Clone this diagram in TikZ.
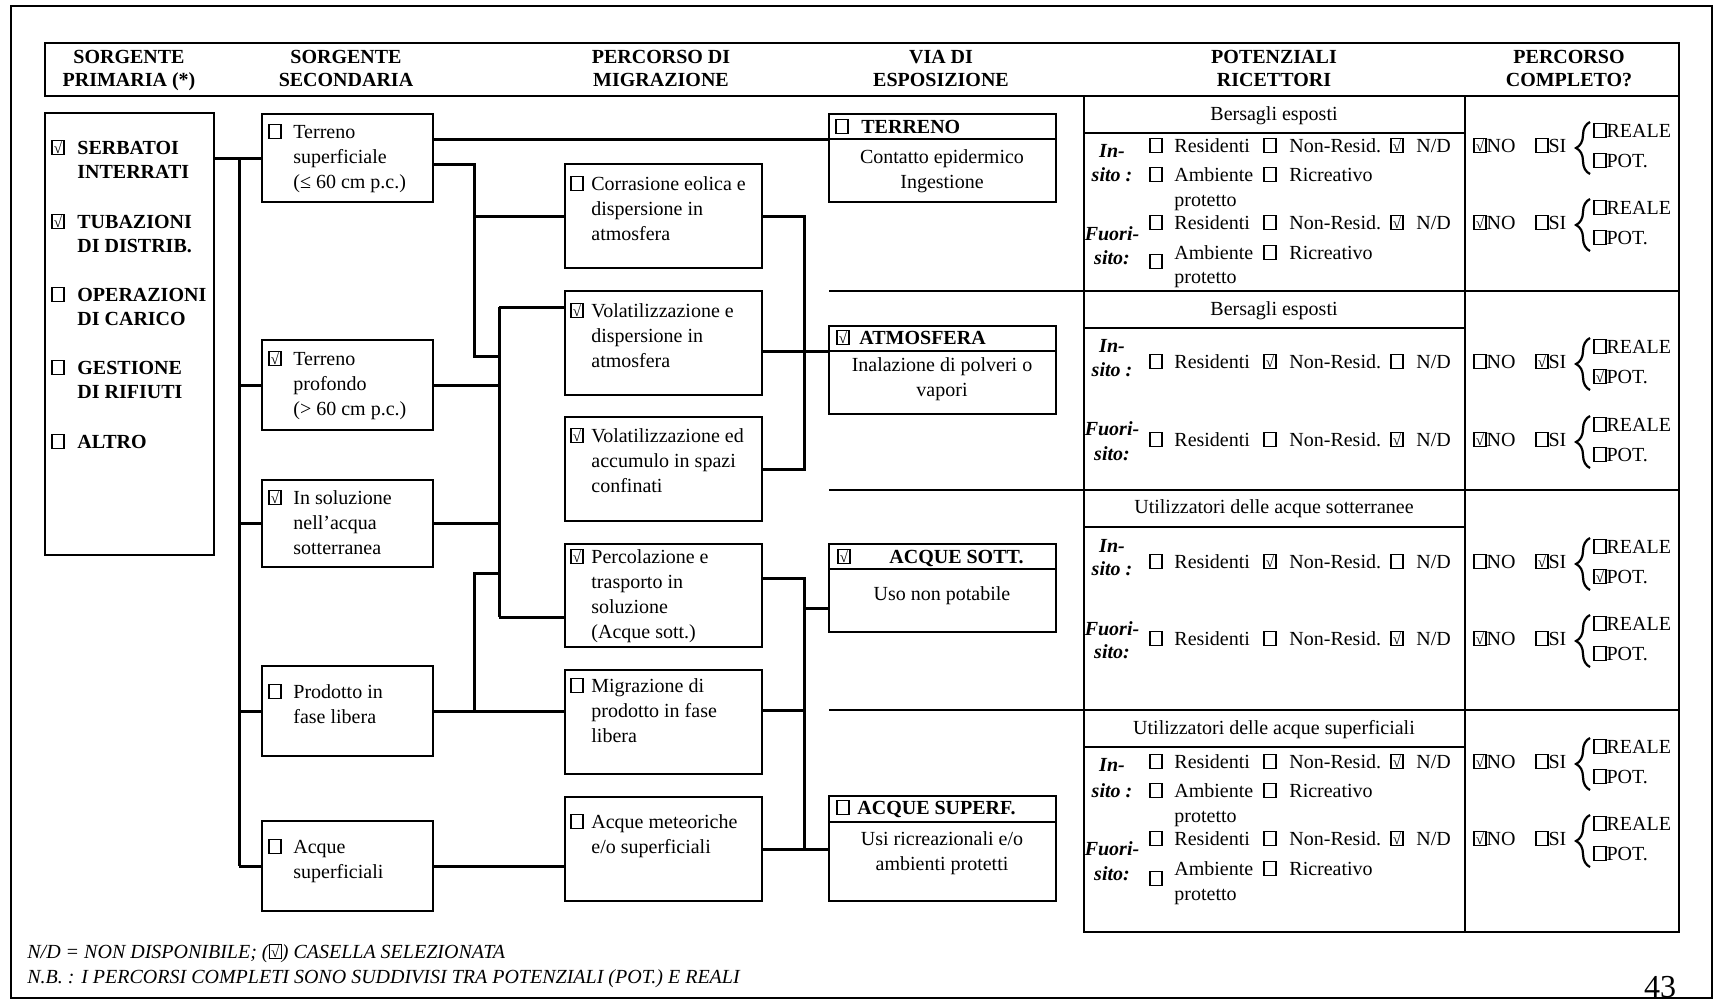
\documentclass[tikz,border=0pt]{standalone}
\usepackage{fontspec}
\setmainfont{Liberation Serif}
\usetikzlibrary{fit,decorations.pathreplacing}

\newcommand\cbx[1]{{\setlength\fboxsep{0pt}\setlength\fboxrule{0.6pt}\fbox{\makebox[5.4pt]{\rule{0pt}{6.6pt}#1}}}}
\newcommand\cb{\cbx{}}
\newcommand\ck{\cbx{\smash{\raisebox{0.3pt}{\fontsize{7.5}{7.5}\selectfont √}}}}
\newcommand\ml[1]{\begin{tabular}[t]{@{}l@{}}#1\end{tabular}}
\newcommand\mc[1]{\begin{tabular}[t]{@{}c@{}}#1\end{tabular}}
\newcommand\hfont{\fontsize{10}{11.5}\selectfont\bfseries}
\newcommand\pfont{\fontsize{10}{12}\selectfont\bfseries}
\newcommand\lfont{\fontsize{10}{12}\selectfont\bfseries\itshape}

\newcommand\resrow[5]{%
  \node[t] (#1a) at (1149,#2) {#3};
  \node[t] (#1at) at (1174,#2) {Residenti};
  \node[t] (#1b) at (1263,#2) {#4};
  \node[t] (#1bt) at (1289,#2) {Non-Resid.};
  \node[t] (#1c) at (1390,#2) {#5};
  \node[t] (#1ct) at (1416,#2) {N/D};}
\newcommand\ambrow[4]{%
  \node[t] (#1a) at (1149,#3) {\cb};
  \node[t] (#1at) at (1174,#2) {Ambiente};
  \node[t] (#1b) at (1263,#2) {\cb};
  \node[t] (#1bt) at (1289,#2) {Ricreativo};
  \node[t] (#1p) at (1174,#4) {protetto};}
\newcommand\pcrow[6]{%
  \node[t] (#1n) at (1473,#2) {#3NO};
  \node[t] (#1s) at (1535,#2) {#4SI};
  \draw[brc] (1590,#2+22) -- (1590,#2-30);
  \node[t] (#1r) at (1593,#2-15) {#5REALE};
  \node[t] (#1p) at (1593,#2+15) {#6POT.};}
\newcommand\sitelab[5]{%
  \node[tc,font=\lfont] (#1) at (1112,#2) {#3};
  \node[tc,font=\lfont] (#1s) at (1112,#4) {#5};}

\begin{document}
\begin{tikzpicture}[x=0.5pt,y=-0.5pt,
  every node/.append style={font=\fontsize{10}{12.5}\selectfont},
  t/.style={inner sep=0pt, anchor=base west},
  tc/.style={inner sep=0pt, anchor=base},
  bx/.style={draw, line width=0.8pt, inner sep=0pt},
  conn/.style={line width=1.5pt, line join=miter},
  tl/.style={line width=0.6pt},
  brc/.style={decorate, decoration={brace, amplitude=7pt}, line width=1.1pt}]

\useasboundingbox (0,0) rectangle (1719,1001);
\fill[white] (0,0) rectangle (1719,1001);

% frame and header
\node[bx, line width=0.7pt, fit={(11,6) (1712,998)}] (frame) {};
\node[bx, fit={(45,43) (1679,96)}] (hdr) {};
\node[tc, font=\hfont] (h1) at (129,63) {\mc{SORGENTE\\PRIMARIA (*)}};
\node[tc, font=\hfont] (h2) at (346,63) {\mc{SORGENTE\\SECONDARIA}};
\node[tc, font=\hfont] (h3) at (661,63) {\mc{PERCORSO DI\\MIGRAZIONE}};
\node[tc, font=\hfont] (h4) at (941,63) {\mc{VIA DI\\ESPOSIZIONE}};
\node[tc, font=\hfont] (h5) at (1274,63) {\mc{POTENZIALI\\RICETTORI}};
\node[tc, font=\hfont] (h6) at (1569,63) {\mc{PERCORSO\\COMPLETO?}};

% primary source
\node[bx, fit={(45,113) (214,555)}] (prim) {};
\node[t] (p1b) at (51,154) {\ck}; \node[t, font=\pfont] (p1) at (77,154) {\ml{SERBATOI\\INTERRATI}};
\node[t] (p2b) at (51,228) {\ck}; \node[t, font=\pfont] (p2) at (77,228) {\ml{TUBAZIONI\\DI DISTRIB.}};
\node[t] (p3b) at (51,301) {\cb}; \node[t, font=\pfont] (p3) at (77,301) {\ml{OPERAZIONI\\DI CARICO}};
\node[t] (p4b) at (51,374) {\cb}; \node[t, font=\pfont] (p4) at (77,374) {\ml{GESTIONE\\DI RIFIUTI}};
\node[t] (p5b) at (51,448) {\cb}; \node[t, font=\pfont] (p5) at (77,448) {ALTRO};

% secondary sources
\node[bx, fit={(262,114) (433,202)}] (s1) {};
\node[bx, fit={(262,340) (433,430)}] (s2) {};
\node[bx, fit={(262,480) (433,567)}] (s3) {};
\node[bx, fit={(262,666) (433,756)}] (s4) {};
\node[bx, fit={(262,821) (433,911)}] (s5) {};
\node[t] (s1b) at (268,138) {\cb}; \node[t] (s1t) at (293,138) {\ml{Terreno\\superficiale\\(≤ 60 cm p.c.)}};
\node[t] (s2b) at (268,365) {\ck}; \node[t] (s2t) at (293,365) {\ml{Terreno\\profondo\\(> 60 cm p.c.)}};
\node[t] (s3b) at (268,504) {\ck}; \node[t] (s3t) at (293,504) {\ml{In soluzione\\nell'acqua\\sotterranea}};
\node[t] (s4b) at (268,698) {\cb}; \node[t] (s4t) at (293,698) {\ml{Prodotto in\\fase libera}};
\node[t] (s5b) at (268,853) {\cb}; \node[t] (s5t) at (293,853) {\ml{Acque\\superficiali}};

% migration paths
\node[bx, fit={(565,164) (762,268)}] (m1) {};
\node[bx, fit={(565,291) (762,395)}] (m2) {};
\node[bx, fit={(565,417) (762,521)}] (m3) {};
\node[bx, fit={(565,544) (762,647)}] (m4) {};
\node[bx, fit={(565,670) (762,774)}] (m5) {};
\node[bx, fit={(565,797) (762,901)}] (m6) {};
\node[t] (m1b) at (570,190) {\cb}; \node[t] (m1t) at (591,190) {\ml{Corrasione eolica e\\dispersione in\\atmosfera}};
\node[t] (m2b) at (570,317) {\ck}; \node[t] (m2t) at (591,317) {\ml{Volatilizzazione e\\dispersione in\\atmosfera}};
\node[t] (m3b) at (570,442) {\ck}; \node[t] (m3t) at (591,442) {\ml{Volatilizzazione ed\\accumulo in spazi\\confinati}};
\node[t] (m4b) at (570,563) {\ck}; \node[t] (m4t) at (591,563) {\ml{Percolazione e\\trasporto in\\soluzione\\(Acque sott.)}};
\node[t] (m5b) at (570,692) {\cb}; \node[t] (m5t) at (591,692) {\ml{Migrazione di\\prodotto in fase\\libera}};
\node[t] (m6b) at (570,828) {\cb}; \node[t] (m6t) at (591,828) {\ml{Acque meteoriche\\e/o superficiali}};

% exposure routes
\node[bx, fit={(829,114) (1056,139)}] (v1h) {};
\node[bx, fit={(829,139) (1056,202)}] (v1b) {};
\node[bx, fit={(829,326) (1056,351)}] (v2h) {};
\node[bx, fit={(829,351) (1056,414)}] (v2b) {};
\node[bx, fit={(829,544) (1056,569)}] (v3h) {};
\node[bx, fit={(829,569) (1056,632)}] (v3b) {};
\node[bx, fit={(829,796) (1056,822)}] (v4h) {};
\node[bx, fit={(829,822) (1056,901)}] (v4b) {};
\node[t] (v1k) at (835,133) {\cb}; \node[t, font=\hfont] (v1t) at (861,133) {TERRENO};
\node[t] (v2k) at (836,344) {\ck}; \node[t, font=\hfont] (v2t) at (859,344) {ATMOSFERA};
\node[t] (v3k) at (837,563) {\ck}; \node[t, font=\hfont] (v3t) at (889,563) {ACQUE SOTT.};
\node[t] (v4k) at (836,814) {\cb}; \node[t, font=\hfont] (v4t) at (857,814) {ACQUE SUPERF.};
\node[tc] (v1x) at (942,163) {\mc{Contatto epidermico\\Ingestione}};
\node[tc] (v2x) at (942,371) {\mc{Inalazione di polveri o\\vapori}};
\node[tc] (v3x) at (942,600) {Uso non potabile};
\node[tc] (v4x) at (942,845) {\mc{Usi ricreazionali e/o\\ambienti protetti}};

% receptor table
\node[bx, line width=0.6pt, fit={(1084,96) (1679,932)}] (tab) {};
\draw[tl] (1465,96) -- (1465,932);
\draw[tl] (829,291) -- (1679,291);
\draw[tl] (829,490) -- (1679,490);
\draw[tl] (829,710) -- (1679,710);
\draw[tl] (1084,133) -- (1465,133);
\draw[tl] (1084,328) -- (1465,328);
\draw[tl] (1084,527) -- (1465,527);
\draw[tl] (1084,747) -- (1465,747);
\node[tc] (g1) at (1274,120) {Bersagli esposti};
\node[tc] (g2) at (1274,315) {Bersagli esposti};
\node[tc] (g3) at (1274,513) {Utilizzatori delle acque sotterranee};
\node[tc] (g4) at (1274,734) {Utilizzatori delle acque superficiali};

% section 1
\sitelab{l1i}{157}{In-}{181}{sito :}
\resrow{r1i}{152}{\cb}{\cb}{\ck}
\ambrow{a1i}{181}{181}{206}
\sitelab{l1f}{240}{Fuori-}{264}{sito:}
\resrow{r1f}{229}{\cb}{\cb}{\ck}
\ambrow{a1f}{259}{268}{283}
\pcrow{c1i}{152}{\ck}{\cb}{\cb}{\cb}
\pcrow{c1f}{229}{\ck}{\cb}{\cb}{\cb}

% section 2
\sitelab{l2i}{352}{In-}{376}{sito :}
\resrow{r2i}{368}{\cb}{\ck}{\cb}
\sitelab{l2f}{435}{Fuori-}{460}{sito:}
\resrow{r2f}{446}{\cb}{\cb}{\ck}
\pcrow{c2i}{368}{\cb}{\ck}{\cb}{\ck}
\pcrow{c2f}{446}{\ck}{\cb}{\cb}{\cb}

% section 3
\sitelab{l3i}{552}{In-}{575}{sito :}
\resrow{r3i}{568}{\cb}{\ck}{\cb}
\sitelab{l3f}{635}{Fuori-}{658}{sito:}
\resrow{r3f}{645}{\cb}{\cb}{\ck}
\pcrow{c3i}{568}{\cb}{\ck}{\cb}{\ck}
\pcrow{c3f}{645}{\ck}{\cb}{\cb}{\cb}

% section 4
\sitelab{l4i}{771}{In-}{797}{sito :}
\resrow{r4i}{768}{\cb}{\cb}{\ck}
\ambrow{a4i}{797}{797}{822}
\sitelab{l4f}{855}{Fuori-}{880}{sito:}
\resrow{r4f}{845}{\cb}{\cb}{\ck}
\ambrow{a4f}{875}{885}{900}
\pcrow{c4i}{768}{\ck}{\cb}{\cb}{\cb}
\pcrow{c4f}{845}{\ck}{\cb}{\cb}{\cb}

% connectors: primary -> secondary
\coordinate (bA1) at (239,158);
\draw[conn] (prim.east |- s1.west) -- (s1.west);
\draw[conn] (bA1) -- (bA1 |- s5.west);
\draw[conn] (bA1 |- s2.west) -- (s2.west);
\draw[conn] (bA1 |- s3.west) -- (s3.west);
\draw[conn] (bA1 |- s4.west) -- (s4.west);
\draw[conn] (bA1 |- s5.west) -- (s5.west);

% secondary -> migration / exposure
\coordinate (t1) at (474,164);
\coordinate (t2) at (474,356);
\coordinate (bB1) at (499,307);
\coordinate (bB2) at (499,617);
\coordinate (bC1) at (474,573);
\draw[conn] (s1.east |- v1h.south west) -- (v1h.south west);
\draw[conn] (s1.east |- t1) -- (t1) -- (t2) -- (t2 -| bB1);
\draw[conn] (t1 |- m1.west) -- (m1.west);
\draw[conn] (bB1) -- (bB2);
\draw[conn] (bB1) -- (bB1 -| m2.west);
\draw[conn] (s2.east) -- (s2.east -| bB1);
\draw[conn] (s3.east) -- (s3.east -| bB1);
\draw[conn] (bB2) -- (bB2 -| m4.west);
\draw[conn] (bC1 -| bB1) -- (bC1) -- (bC1 |- s4.east);
\draw[conn] (s4.east) -- (s4.east -| m5.west);
\draw[conn] (s5.east) -- (s5.east -| m6.west);

% migration -> exposure
\coordinate (bD1) at (804,216);
\coordinate (bE1) at (804,578);
\coordinate (bE3) at (804,710);
\coordinate (bE4) at (804,608);
\draw[conn] (m1.east) -- (m1.east -| bD1) -- (bD1 |- m3.east) -- (m3.east);
\draw[conn] (m2.east |- v2h.south west) -- (v2h.south west);
\draw[conn] (m4.east |- bE1) -- (bE1) -- (bE1 |- m6.east);
\draw[conn] (m5.east |- bE3) -- (bE3);
\draw[conn] (bE4) -- (bE4 -| v3b.west);
\draw[conn] (m6.east) -- (m6.east -| v4b.west);

% notes
\node[t, font=\fontsize{10}{12}\selectfont\itshape] (n1) at (27,958) {N/D = NON DISPONIBILE; (\ck) CASELLA SELEZIONATA};
\node[t, font=\fontsize{10}{12}\selectfont\itshape] (n2) at (27,983) {N.B. : I PERCORSI COMPLETI SONO SUDDIVISI TRA POTENZIALI (POT.) E REALI};
\node[tc, font=\fontsize{16}{16}\selectfont] (pg) at (1660,997) {43};
\end{tikzpicture}
\end{document}
